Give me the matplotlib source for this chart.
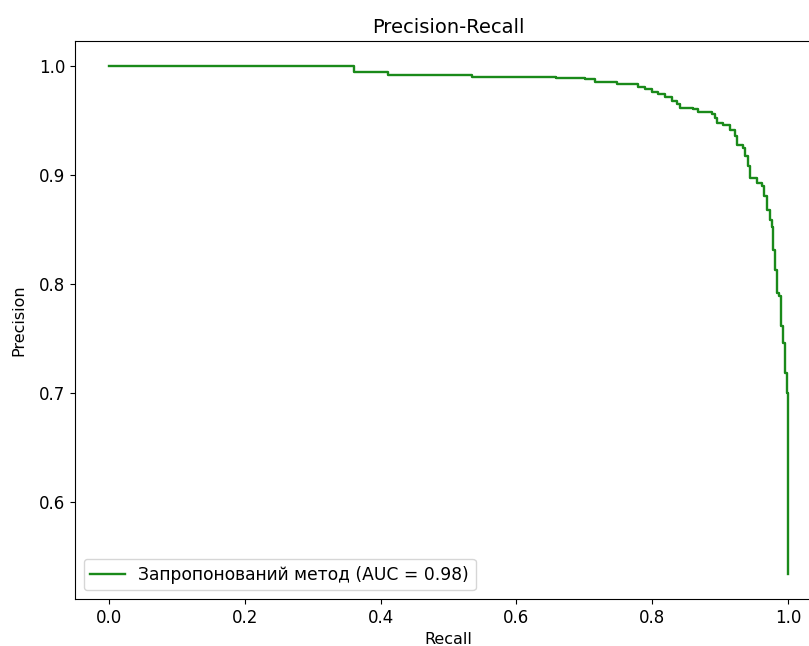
import matplotlib
matplotlib.use("Agg")
import matplotlib.pyplot as plt

recall = [0.000, 0.361, 0.411, 0.534, 0.658, 0.701, 0.716, 0.748, 0.7795, 0.789,
          0.799, 0.809, 0.819, 0.829, 0.836, 0.841, 0.8605, 0.868, 0.8876, 0.8925,
          0.895, 0.9047, 0.9146, 0.922, 0.9245, 0.9333, 0.9367, 0.9416, 0.944, 0.954,
          0.9613, 0.9647, 0.9686, 0.9735, 0.976, 0.9775, 0.981, 0.9833, 0.9872, 0.9892,
          0.9931, 0.9956, 0.998, 0.9995, 1.000]
precision = [1.000, 0.995, 0.9917, 0.990, 0.9892, 0.988, 0.9856, 0.9834, 0.9813, 0.9788,
             0.9764, 0.9742, 0.9718, 0.9681, 0.965, 0.962, 0.9604, 0.958, 0.9558, 0.9528,
             0.9482, 0.9457, 0.942, 0.9359, 0.9282, 0.9252, 0.9175, 0.9083, 0.8976, 0.893,
             0.8899, 0.8807, 0.8684, 0.8592, 0.852, 0.8316, 0.8132, 0.7918, 0.7887, 0.7611,
             0.7458, 0.7182, 0.6998, 0.6783, 0.534]
label = "Запропонований метод (AUC = 0.98)"

fig = plt.figure(figsize=(8.09, 6.46), dpi=100)
ax = fig.add_axes([75 / 809, 1 - 599 / 646, (822 - 75) / 809, (599 - 41) / 646])
ax.plot(recall, precision, color="#1a8a1a", drawstyle="steps-post", linewidth=1.7, label=label)
ax.set_title("Precision-Recall", fontsize=14)
ax.set_xlabel("Recall", fontsize=11.5)
ax.set_ylabel("Precision", fontsize=11.5, labelpad=9)
ax.tick_params(labelsize=12)
ax.legend(loc="lower left", fontsize=12.3)
fig.savefig("out.png", dpi=100)
